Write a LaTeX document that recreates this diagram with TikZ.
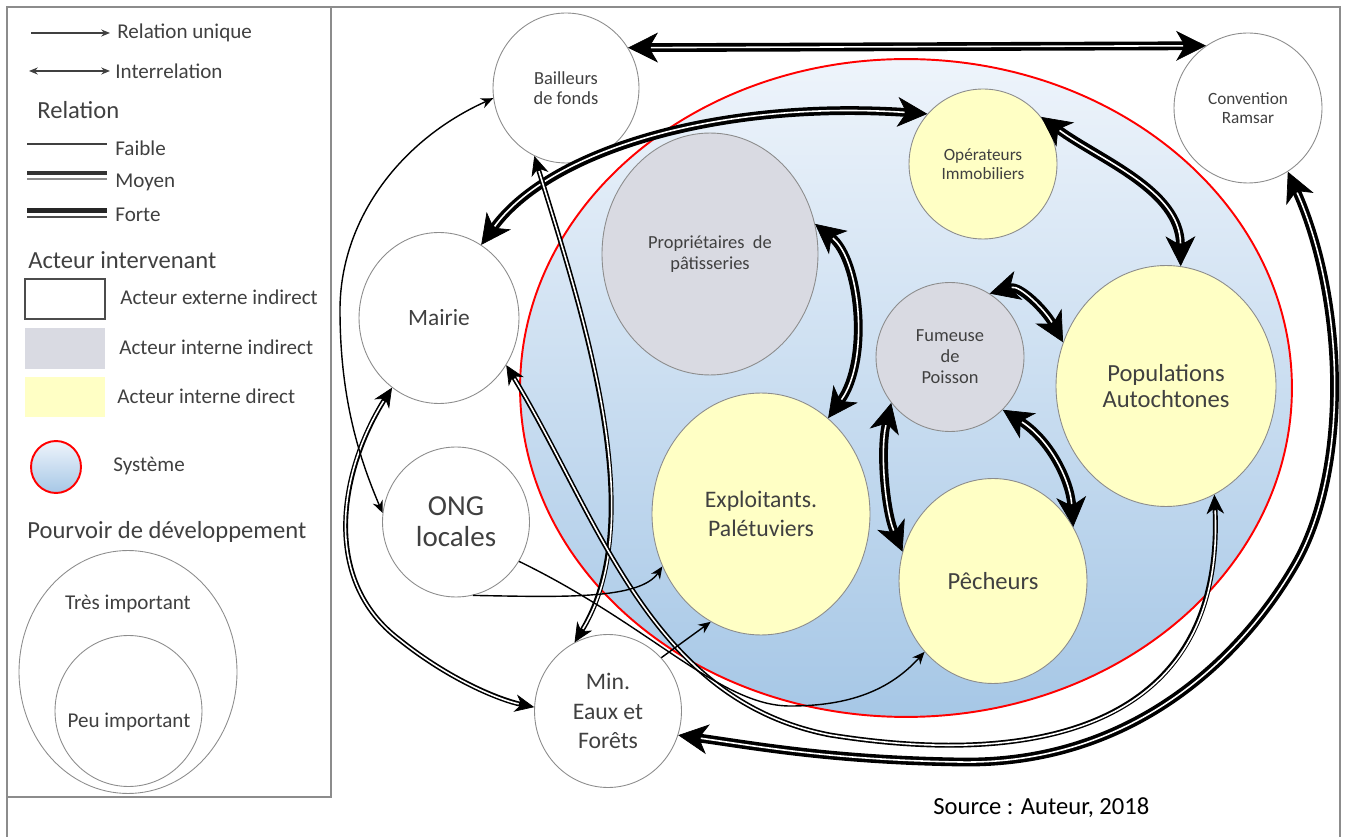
\documentclass[tikz,border=0pt]{standalone}
\usepackage{fontspec}
\setmainfont{Carlito}
\usetikzlibrary{arrows.meta,shapes.geometric}

\definecolor{jaune}{RGB}{255,255,197}
\definecolor{grisact}{RGB}{217,218,226}
\definecolor{bordgris}{RGB}{140,140,140}
\definecolor{texte}{RGB}{64,64,64}
\definecolor{bleuhaut}{RGB}{238,244,251}
\definecolor{bleubas}{RGB}{166,199,230}

\tikzset{
  acteur/.style={ellipse, draw=bordgris, line width=0.5pt, inner sep=0pt, align=center, text=texte},
  externe/.style={acteur, fill=white},
  indirect/.style={acteur, fill=grisact},
  direct/.style={acteur, fill=jaune},
  faible/.style={draw=black, line width=0.8pt, >={Stealth[length=7pt,width=6pt]}},
  moyen/.style={draw=black, line width=2.8pt, >={Stealth[length=11pt,width=10pt,line width=0.4pt]},
    postaction={draw=white, line width=0.9pt, -, shorten <=9pt, shorten >=9pt}},
  forte/.style={draw=black, line width=5pt, >={Stealth[length=17pt,width=17pt,inset=5pt,line width=0.4pt]},
    postaction={draw=white, line width=0.9pt, -, shorten <=13pt, shorten >=13pt}},
  legtxt/.style={anchor=west, inner sep=0pt, text=texte, font=\fontsize{12}{14}\selectfont},
  legtitre/.style={anchor=west, inner sep=0pt, text=texte, font=\fontsize{14}{16}\selectfont}
}

\begin{document}
\begin{tikzpicture}[x=0.02cm, y=-0.02cm]
\useasboundingbox (0,0) rectangle (1346,837);

% cadre
\draw[bordgris, line width=0.6pt] (7,837) -- (7,7) -- (1340,7) -- (1340,837);
\draw[bordgris, line width=0.6pt] (7,797) -- (331,797) -- (331,7);

% legende
\begin{scope}[texte]
  \node[legtxt] (unique) at (117,33) {Relation unique};
  \draw[line width=0.7pt, -{Stealth[length=5pt,width=4pt]}] (31,33) -- (110,33);
  \node[legtxt] (inter) at (115,71) {Interrelation};
  \draw[line width=0.7pt, {Stealth[length=5pt,width=4pt]}-{Stealth[length=5pt,width=4pt]}] (29,71) -- (110,71);

  \node[legtitre] (relation) at (37,110) {Relation};
  \node[legtxt] (lfaible) at (115,148) {Faible};
  \draw[line width=0.8pt] (27,144) -- (107,144);
  \node[legtxt] (lmoyen) at (115,182) {Moyen};
  \draw[line width=2.1pt, black!80] (27,173) -- (107,173);
  \draw[line width=1.6pt, black!45] (27,179) -- (107,179);
  \node[legtxt] (lforte) at (115,215) {Forte};
  \draw[line width=3pt, black!85] (27,210.5) -- (107,210.5);
  \draw[line width=1.2pt, black!70] (27,217) -- (107,217);

  \node[legtitre] (intervenant) at (28,260) {Acteur intervenant};
  \draw[black!70, line width=0.6pt, fill=white] (25,279) rectangle (105,319);
  \node[legtxt] (lexterne) at (120,297) {Acteur externe indirect};
  \fill[grisact] (25,328) rectangle (105,369);
  \node[legtxt] (lindirect) at (119,347) {Acteur interne indirect};
  \fill[jaune] (25,377) rectangle (105,417);
  \node[legtxt] (ldirect) at (117,396) {Acteur interne direct};
  \shadedraw[top color=bleuhaut, bottom color=bleubas, draw=red, line width=1.1pt] (56,467) ellipse [x radius=0.5cm, y radius=0.52cm];
  \node[legtxt] (lsysteme) at (113,466) {Système};

  \node[legtitre] (pouvoir) at (27,532) {Pourvoir de développement};
  \draw[bordgris, line width=0.5pt] (128,672) ellipse [x radius=2.18cm, y radius=2.43cm];
  \draw[bordgris, line width=0.5pt] (128.5,711) ellipse [x radius=1.47cm, y radius=1.51cm];
  \node[legtxt, anchor=center] (ltres) at (128,604) {Très important};
  \node[legtxt, anchor=center] (lpeu) at (129,722) {Peu important};
\end{scope}

% systeme
\shadedraw[top color=bleuhaut, bottom color=bleubas, draw=red, line width=1.1pt] (906,388) ellipse [x radius=7.72cm, y radius=6.58cm];

% acteurs
\node[externe, minimum width=2.92cm, minimum height=3cm, font=\fontsize{10.5}{11.5}\selectfont] (bailleurs) at (566,88) {Bailleurs\\de fonds};
\node[externe, minimum width=2.96cm, minimum height=3cm, font=\fontsize{9.8}{10.4}\selectfont] (ramsar) at (1248,108) {Convention\\Ramsar};
\node[externe, minimum width=3.2cm, minimum height=3.42cm, font=\fontsize{13.3}{15}\selectfont] (mairie) at (439,318) {Mairie};
\node[externe, minimum width=2.94cm, minimum height=3cm, font=\fontsize{16.5}{17.6}\selectfont] (ong) at (456,522) {ONG\\locales};
\node[externe, minimum width=2.94cm, minimum height=3.06cm, font=\fontsize{13.5}{17}\selectfont] (minef) at (608,711) {Min.\\Eaux et\\Forêts};
\node[indirect, minimum width=4.32cm, minimum height=4.84cm, font=\fontsize{10.5}{12}\selectfont] (proprio) at (710,254) {Propriétaires\ \ de\\pâtisseries};
\node[direct, minimum width=2.96cm, minimum height=3cm, font=\fontsize{9.8}{10.8}\selectfont] (operateurs) at (983,164) {Opérateurs\\Immobiliers};
\node[indirect, minimum width=2.96cm, minimum height=2.98cm, font=\fontsize{10.5}{12}\selectfont] (fumeuse) at (950,357) {Fumeuse\\de\\Poisson};
\node[direct, minimum width=4.36cm, minimum height=4.84cm, font=\fontsize{13.5}{16.4}\selectfont] (exploit) at (761,514) {Exploitants.\\Palétuviers};
\node[direct, minimum width=4.4cm, minimum height=4.82cm, font=\fontsize{14}{15.3}\selectfont] (popul) at (1166,386) {Populations\\Autochtones};
\node[direct, minimum width=3.76cm, minimum height=4.1cm, font=\fontsize{14}{16}\selectfont] (pecheurs) at (993,581) {Pêcheurs};

% relations
\draw[forte,<->] (bailleurs.33) -- (ramsar.124);
\draw[forte,<->] (mairie.60) .. controls (550,150) and (720,100) .. (operateurs.138);
\draw[moyen,<->] (bailleurs.245) .. controls (585,320) and (650,520) .. (minef.116);
\draw[moyen,<->] (mairie.325) .. controls (600,520) and (650,700) .. (830,735) .. controls (1050,770) and (1225,720) .. (popul.294);
\draw[forte,<->] (ramsar.302) .. controls (1345,300) and (1350,470) .. (1295,565) .. controls (1240,660) and (1130,765) .. (960,762) .. controls (830,760) and (750,745) .. (minef.341);
\draw[moyen,<->] (mairie.236) .. controls (340,470) and (320,580) .. (400,640) .. controls (450,680) and (500,700) .. (minef.177);
\draw[faible,<->] (bailleurs.188) .. controls (400,140) and (340,220) .. (340,310) .. controls (340,400) and (360,460) .. (ong.173);
\draw[faible,->] (ong.283) .. controls (560,597) and (640,600) .. (exploit.208);
\draw[faible,->] (ong.328) .. controls (650,625) and (720,706) .. (790,706) .. controls (850,706) and (890,690) .. (pecheurs.226);
\draw[faible,->] (minef.45) -- (exploit.245);
\draw[forte,<->] (proprio.16) .. controls (860,260) and (870,360) .. (exploit.55);
\draw[forte,<->] (operateurs.39) .. controls (1100,160) and (1180,190) .. (popul.83);
\draw[forte,<->] (fumeuse.58) .. controls (1020,285) and (1045,310) .. (popul.157);
\draw[forte,<->] (fumeuse.218) .. controls (880,450) and (885,510) .. (pecheurs.162);
\draw[forte,<->] (fumeuse.315) .. controls (1050,440) and (1070,480) .. (pecheurs.34);

\node[anchor=west, inner sep=0pt, font=\fontsize{14}{16}\selectfont] (source) at (933,808) {Source : Auteur, 2018};
\end{tikzpicture}
\end{document}
